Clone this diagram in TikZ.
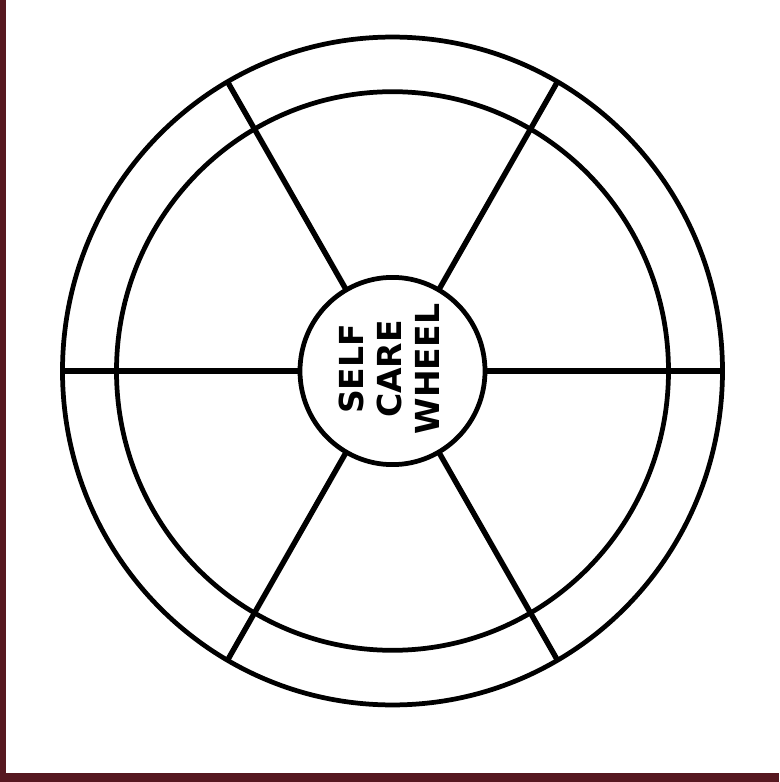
\documentclass[tikz,border=0pt]{standalone}
\usepackage{fontspec}
\setmainfont{DejaVu Sans}
\usepackage{tikz}
\usetikzlibrary{positioning}
\definecolor{maroonbg}{RGB}{86,24,32}
\tikzset{
    ringline/.style={
        line width=1.35pt,
        black
    },
    spokeline/.style={
        line width=1.55pt,
        black
    }
}

\begin{document}
\begin{tikzpicture}
	% frame
	\useasboundingbox (-3.925,-4.11) rectangle (3.865,3.71);
	\fill[maroonbg] (-3.925,-4.11) rectangle (3.865,3.71);
	\fill[white] (-3.865,-4.02) rectangle (3.865,3.71);
	
	\begin{scope}[yscale=1.012]
	\path 
	(0:3.3) coordinate (o1)
	(60:3.3) coordinate (o2)
	(120:3.3) coordinate (o3)
	(180:3.3) coordinate (o4)
	(240:3.3) coordinate (o5)
	(300:3.3) coordinate (o6)
	
	(0:0.925) coordinate (h1)
	(60:0.925) coordinate (h2)
	(120:0.925) coordinate (h3)
	(180:0.925) coordinate (h4)
	(240:0.925) coordinate (h5)
	(300:0.925) coordinate (h6);
	
	% rings
	\draw[ringline] (0,0) circle (3.3);
	\draw[ringline] (0,0) circle (2.76);
	\draw[ringline,fill=white] (0,0) circle (0.925);
	
	% spokes
	\draw[spokeline] (h1) -- (o1);
	\draw[spokeline] (h2) -- (o2);
	\draw[spokeline] (h3) -- (o3);
	\draw[spokeline] (h4) -- (o4);
	\draw[spokeline] (h5) -- (o5);
	\draw[spokeline] (h6) -- (o6);
	\end{scope}
	
	% hub text
	\node[rotate=90,align=center,font=\fontsize{9.4}{10.8}\selectfont\bfseries] (hub) at (-0.035,0.02) {SELF\\CARE\\WHEEL};
\end{tikzpicture}
\end{document}
